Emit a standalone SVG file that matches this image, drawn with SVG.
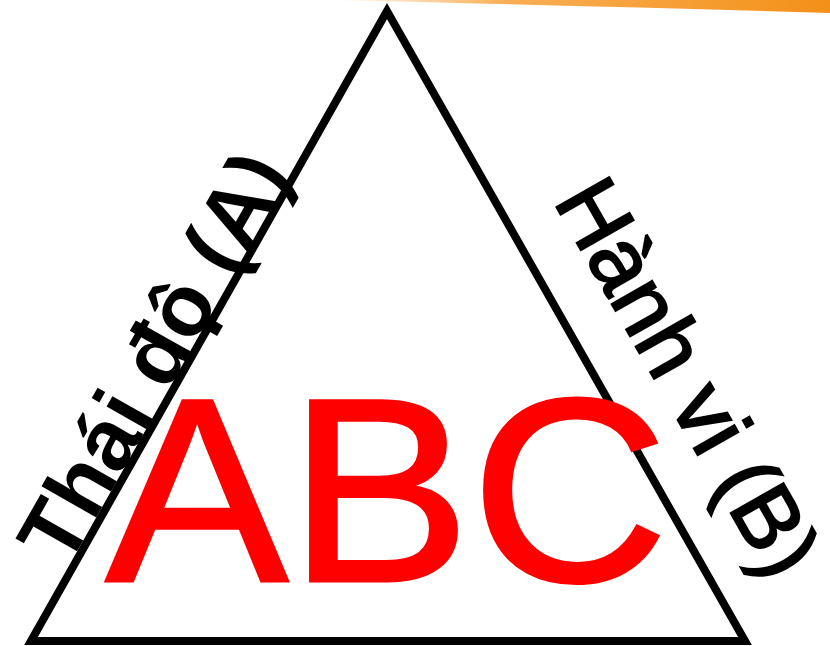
<svg xmlns="http://www.w3.org/2000/svg" width="830" height="646" viewBox="0 0 830 646">
  <defs>
    <linearGradient id="bandGrad" x1="330" y1="0" x2="830" y2="0" gradientUnits="userSpaceOnUse">
      <stop offset="0" stop-color="#f7941d" stop-opacity="0"/>
      <stop offset="0.35" stop-color="#f7941d" stop-opacity="0.75"/>
      <stop offset="1" stop-color="#f39018" stop-opacity="1"/>
    </linearGradient>
  </defs>
  <style>
    .side { fill: none; stroke: #000; stroke-width: 8; stroke-linejoin: miter; stroke-miterlimit: 10; }
    .lbl { font-family: "Liberation Sans", Arial, sans-serif; fill: #000; }
    .abc { font-family: "Liberation Sans", Arial, sans-serif; fill: #ff0000; stroke: #ff0000; stroke-width: 3; stroke-linejoin: miter; font-size: 262px; }
  </style>
  <rect x="0" y="0" width="830" height="646" fill="#ffffff"/>
  <path id="band" d="M330 0 L830 0 L830 13 Q600 6 330 0 Z" fill="url(#bandGrad)"/>
  <g id="connectors">
    <polygon id="triangle" class="side" points="387,11 31,641 745,641"/>
  </g>
  <g id="label-A">
    <text class="lbl" font-size="87" font-weight="bold" transform="translate(67,569) rotate(-60.4)">Thái độ (A)</text>
  </g>
  <g id="label-B">
    <text class="lbl" font-size="88" stroke="#000" stroke-width="2.2" transform="translate(553,201) rotate(60.35)">Hành vi (B)</text>
  </g>
  <g id="title">
    <text class="abc" x="101" y="581" transform="scale(1.045,1)">ABC</text>
  </g>
</svg>
